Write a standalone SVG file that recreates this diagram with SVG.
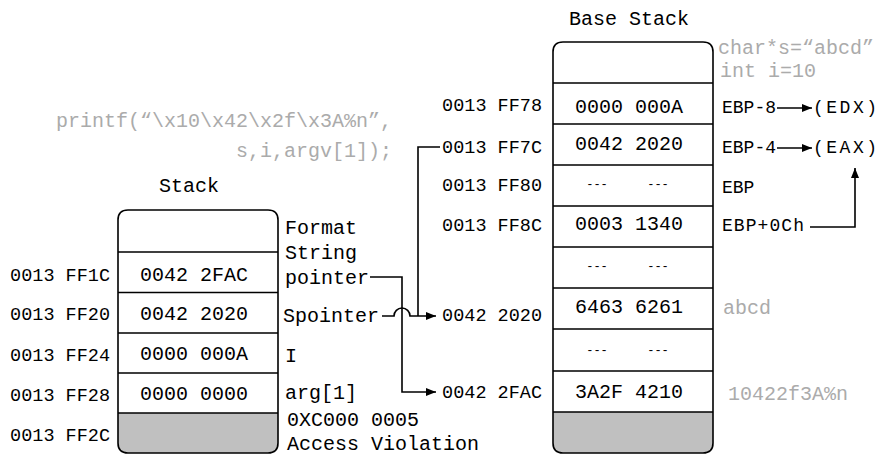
<svg xmlns="http://www.w3.org/2000/svg" width="881" height="455" viewBox="0 0 881 455">
<defs>
<marker id="ah" viewBox="0 0 10 8" refX="10" refY="4" markerWidth="10" markerHeight="8" markerUnits="userSpaceOnUse" orient="auto"><path d="M0,0 L10,4 L0,8 z" fill="#000"/></marker>
</defs>
<style>
text{font-family:"Liberation Mono","DejaVu Sans Mono",monospace;fill:#000}
.t{font-size:20px}
.a{font-size:18.5px;text-anchor:end}
.c{font-size:20px;text-anchor:middle}
.g{fill:#ababab;font-size:20px}
.d{font-size:12px;text-anchor:middle}
.r{font-size:18px}
.box{fill:#fff;stroke:none}
.out{fill:none;stroke:#000;stroke-width:1.6}
.sep{stroke:#000;stroke-width:1.6}
.grey{fill:#c0c0c0}
.conn{fill:none;stroke:#000;stroke-width:1.6}
</style>
<rect width="881" height="455" fill="#fff"/>

<g id="code-text">
<text class="g" x="392" y="127" text-anchor="end">printf(“\x10\x42\x2f\x3A%n”,</text>
<text class="g" x="392" y="157" text-anchor="end">s,i,argv[1]);</text>
</g>

<g id="stack">
<text class="c" x="189" y="192">Stack</text>
<path class="box" d="M118,220 Q118,210 128,210 H268 Q278,210 278,220 V443 Q278,453 268,453 H128 Q118,453 118,443 Z"/>
<path class="grey" d="M118,413 H278 V443 Q278,453 268,453 H128 Q118,453 118,443 Z"/>
<path class="sep" d="M118,252 H278 M118,292.5 H278 M118,333 H278 M118,373 H278 M118,413 H278"/>
<path class="out" d="M118,220 Q118,210 128,210 H268 Q278,210 278,220 V443 Q278,453 268,453 H128 Q118,453 118,443 Z"/>
<text class="c" x="194" y="281">0042 2FAC</text>
<text class="c" x="194" y="320">0042 2020</text>
<text class="c" x="194" y="360">0000 000A</text>
<text class="c" x="194" y="400">0000 0000</text>
</g>

<g id="stack-addresses">
<text class="a" x="110" y="281">0013 FF1C</text>
<text class="a" x="110" y="320">0013 FF20</text>
<text class="a" x="110" y="361">0013 FF24</text>
<text class="a" x="110" y="401">0013 FF28</text>
<text class="a" x="110" y="441">0013 FF2C</text>
</g>

<g id="stack-labels">
<text class="t" x="285" y="234">Format</text>
<text class="t" x="285" y="259">String</text>
<text class="t" x="285" y="284">pointer</text>
<text class="t" x="283" y="322">Spointer</text>
<text class="t" x="285" y="362">I</text>
<text class="t" x="285" y="399">arg[1]</text>
<text class="t" x="287" y="426">0XC000 0005</text>
<text class="t" x="287" y="450">Access Violation</text>
</g>

<g id="base-stack">
<text class="c" x="629" y="25">Base Stack</text>
<path class="box" d="M553,52 Q553,42 563,42 H703 Q713,42 713,52 V443 Q713,453 703,453 H563 Q553,453 553,443 Z"/>
<path class="grey" d="M553,412 H713 V443 Q713,453 703,453 H563 Q553,453 553,443 Z"/>
<path class="sep" d="M553,83 H713 M553,124 H713 M553,165 H713 M553,206 H713 M553,247 H713 M553,288 H713 M553,329 H713 M553,371 H713 M553,412 H713"/>
<path class="out" d="M553,52 Q553,42 563,42 H703 Q713,42 713,52 V443 Q713,453 703,453 H563 Q553,453 553,443 Z"/>
<text class="c" x="629" y="113">0000 000A</text>
<text class="c" x="629" y="150">0042 2020</text>
<text class="d" x="597" y="188">---</text>
<text class="d" x="658" y="188">---</text>
<text class="c" x="629" y="230">0003 1340</text>
<text class="d" x="597" y="270">---</text>
<text class="d" x="658" y="270">---</text>
<text class="c" x="629" y="313">6463 6261</text>
<text class="d" x="597" y="354">---</text>
<text class="d" x="658" y="354">---</text>
<text class="c" x="629" y="398">3A2F 4210</text>
</g>

<g id="base-stack-addresses">
<text class="a" x="542" y="111">0013 FF78</text>
<text class="a" x="542" y="153">0013 FF7C</text>
<text class="a" x="542" y="191">0013 FF80</text>
<text class="a" x="542" y="231">0013 FF8C</text>
<text class="a" x="542" y="321">0042 2020</text>
<text class="a" x="542" y="398">0042 2FAC</text>
</g>

<g id="base-stack-labels">
<text class="g" x="718" y="54">char*s=“abcd”</text>
<text class="g" x="720" y="77">int i=10</text>
<text class="r" x="722" y="113">EBP-8</text>
<text class="r" x="813" y="113" textLength="64" lengthAdjust="spacing">(EDX)</text>
<text class="r" x="722" y="153">EBP-4</text>
<text class="r" x="813" y="153" textLength="64" lengthAdjust="spacing">(EAX)</text>
<text class="r" x="722" y="193">EBP</text>
<text class="r" x="722" y="231" textLength="82" lengthAdjust="spacing">EBP+0Ch</text>
<text class="g" x="723" y="314">abcd</text>
<text class="g" x="728" y="400">10422f3A%n</text>
</g>

<g id="connectors">
<path class="conn" d="M777,108 H812" marker-end="url(#ah)"/>
<path class="conn" d="M777,148 H812" marker-end="url(#ah)"/>
<path class="conn" d="M810,227 H855 V168" marker-end="url(#ah)"/>
<path class="conn" d="M440,147 H418 V316"/>
<path class="conn" d="M382,316 H394 A8,8 0 0 1 410,316 H436" marker-end="url(#ah)"/>
<path class="conn" d="M370,277 H402 V392 H436" marker-end="url(#ah)"/>
</g>
</svg>
